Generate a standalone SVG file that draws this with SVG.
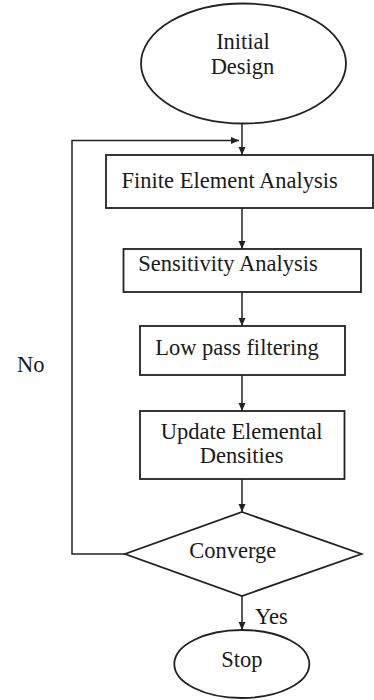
<svg xmlns="http://www.w3.org/2000/svg" width="374" height="700" viewBox="0 0 374 700">
<style>
.s{fill:#fff;stroke:#222;stroke-width:1.8}
.l{fill:none;stroke:#222;stroke-width:1.5}
text{font-family:"Liberation Serif","Times New Roman",serif;font-size:22.5px;fill:#1a1a1a}
.c{text-anchor:middle}
</style>
<defs>
<marker id="ah" markerWidth="8" markerHeight="8" refX="8" refY="4" orient="auto" markerUnits="userSpaceOnUse">
<path d="M0,0.5 L8,4 L0,7.5 Z" fill="#222"/>
</marker>
</defs>
<rect width="374" height="700" fill="#fff"/>
<g id="connectors">
<line class="l" x1="242" y1="123" x2="242" y2="155" marker-end="url(#ah)"/>
<line class="l" x1="242" y1="208" x2="242" y2="249" marker-end="url(#ah)"/>
<line class="l" x1="242" y1="292" x2="242" y2="326" marker-end="url(#ah)"/>
<line class="l" x1="242" y1="375" x2="242" y2="411" marker-end="url(#ah)"/>
<line class="l" x1="242" y1="479" x2="242" y2="512" marker-end="url(#ah)"/>
<line class="l" x1="242" y1="596" x2="242" y2="630" marker-end="url(#ah)"/>
<polyline class="l" points="125,554 72,554 72,140.5 239,140.5" marker-end="url(#ah)"/>
<text x="255" y="624.3">Yes</text>
<text x="17" y="371.7">No</text>
</g>
<g id="initial">
<ellipse class="s" cx="243.5" cy="63.5" rx="102.5" ry="60"/>
<text class="c" x="243" y="49.3">Initial</text>
<text class="c" x="242.5" y="74">Design</text>
</g>
<g id="fea">
<rect class="s" x="106" y="155" width="267" height="53"/>
<text class="c" x="229.7" y="187.7">Finite Element Analysis</text>
</g>
<g id="sensitivity">
<rect class="s" x="123.5" y="249" width="237.5" height="43"/>
<text class="c" x="228" y="270.7">Sensitivity Analysis</text>
</g>
<g id="lowpass">
<rect class="s" x="140" y="326" width="205" height="49"/>
<text class="c" x="237" y="355">Low pass filtering</text>
</g>
<g id="update">
<rect class="s" x="140" y="411" width="204.5" height="68"/>
<text class="c" x="241.7" y="439.3">Update Elemental</text>
<text class="c" x="241.7" y="463">Densities</text>
</g>
<g id="converge">
<polygon class="s" points="242,512 361.5,554 242,596 125,554"/>
<text class="c" x="232.8" y="558">Converge</text>
</g>
<g id="stop">
<ellipse class="s" cx="241.8" cy="664" rx="67.5" ry="34"/>
<text class="c" x="242" y="666.7">Stop</text>
</g>
</svg>
